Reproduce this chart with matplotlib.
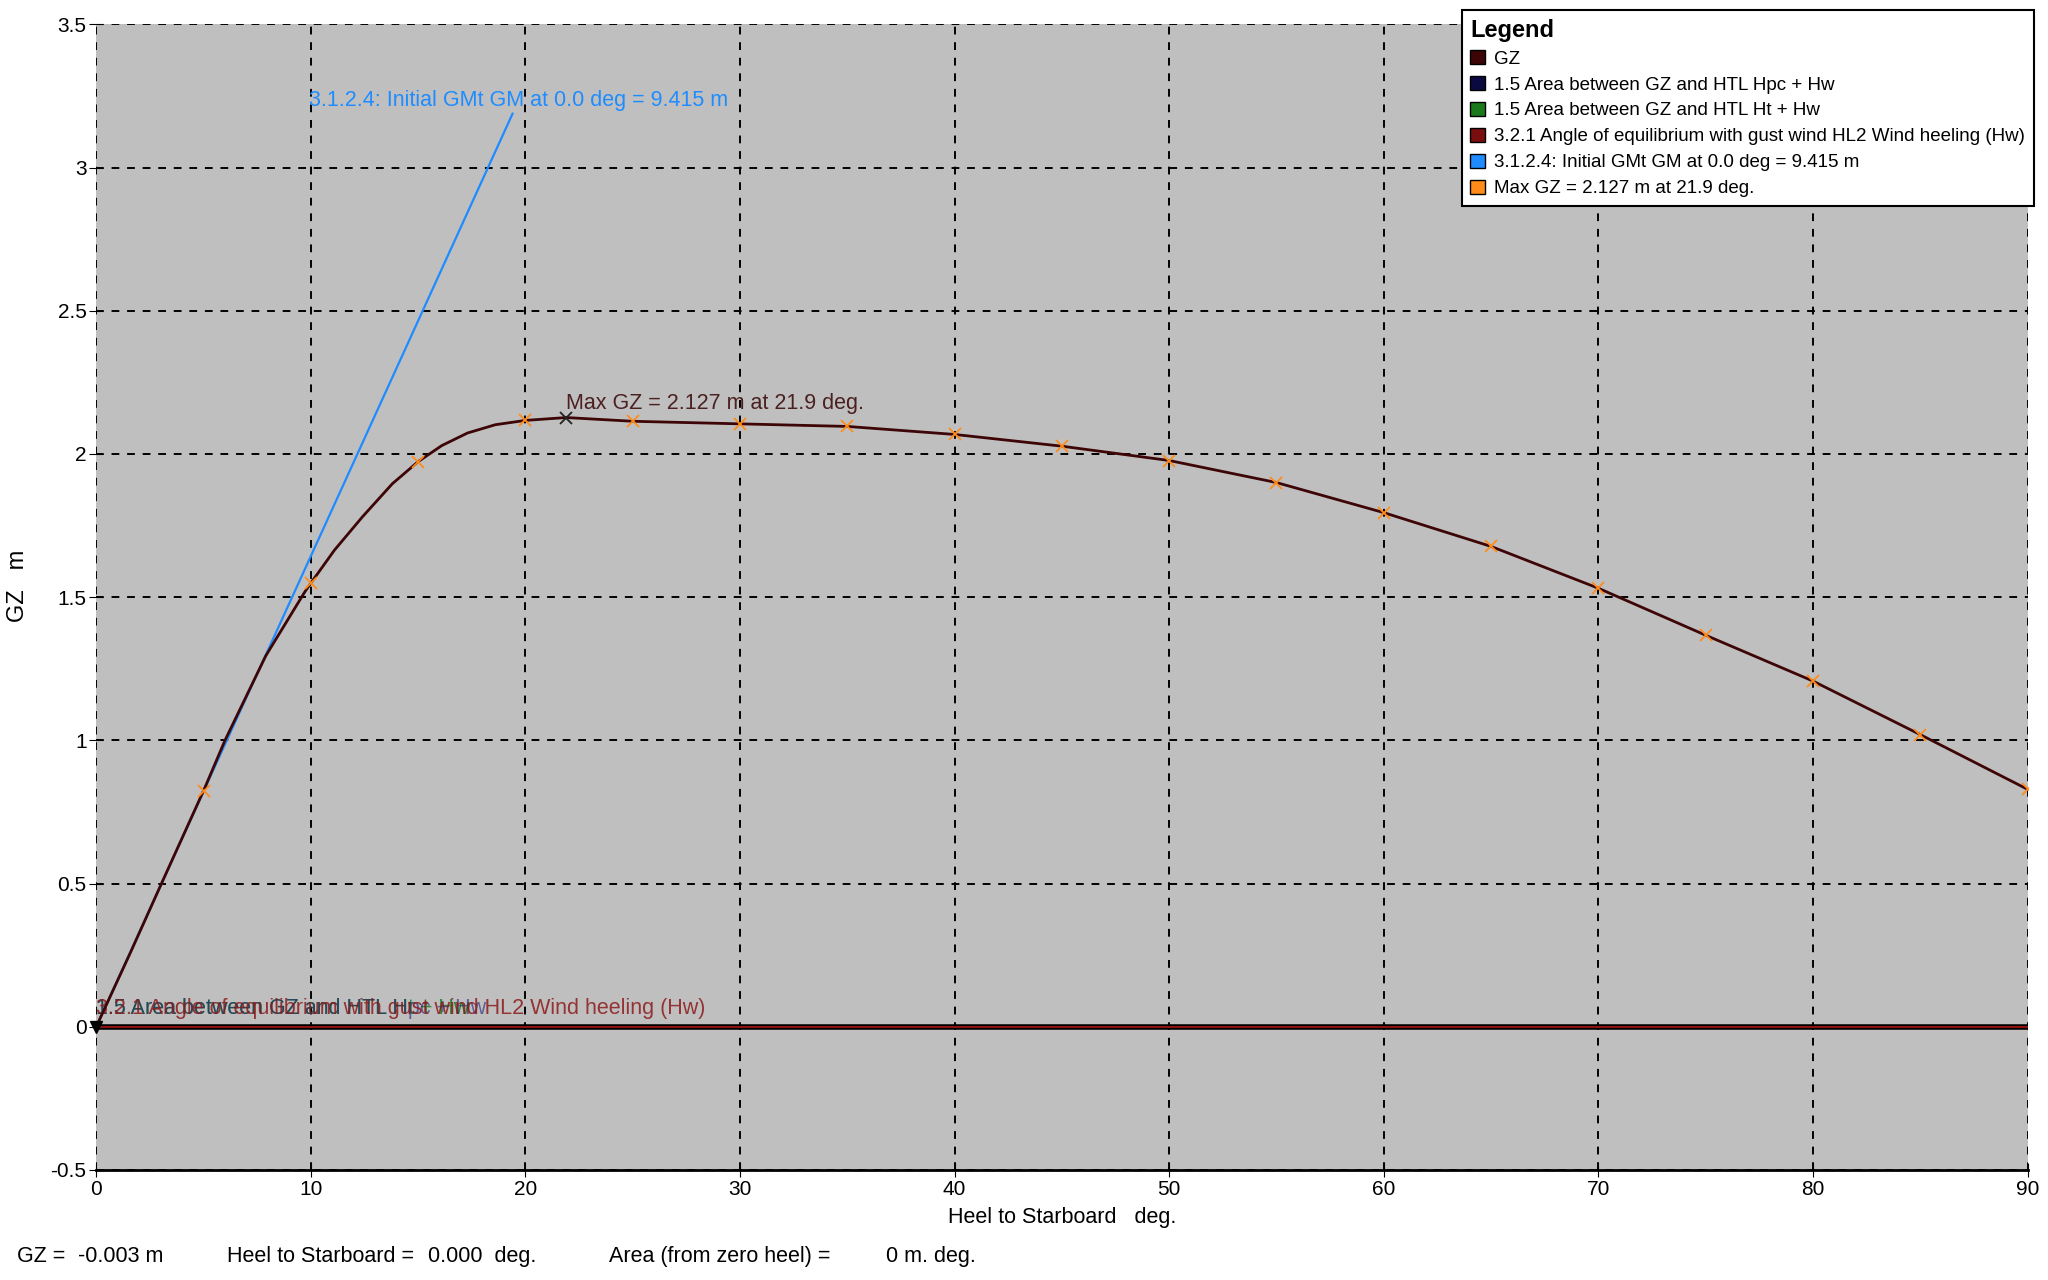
import numpy as np, matplotlib; matplotlib.use("Agg")
import matplotlib.pyplot as plt
from matplotlib.patches import Patch

plt.rcParams['font.family'] = ['Liberation Sans', 'DejaVu Sans']

# GZ curve, points (denser where it bends)
heel = [0, 1.6, 3.1, 5, 6, 7.9, 9.7, 10, 11.1, 12.4, 13.8, 15, 16.1, 17.3, 18.6, 20, 21.9, 25, 30,
        35, 40, 45, 50, 55, 60, 65, 70, 75, 80, 85, 90]
gz = [0.0, 0.26, 0.51, 0.824, 1.0, 1.295, 1.516, 1.549, 1.664, 1.780, 1.896, 1.973, 2.029, 2.073,
      2.102, 2.117, 2.127, 2.114, 2.105, 2.096, 2.068, 2.027, 1.977, 1.900, 1.795, 1.677, 1.531,
      1.367, 1.207, 1.020, 0.829]
mark_heel = [5, 10, 15, 20, 25, 30, 35, 40, 45, 50, 55, 60, 65, 70, 75, 80, 85, 90]
max_gz_heel, max_gz = 21.9, 2.127
gm = 9.415            # m per radian
gm_end = 19.4         # deg, where the GM line stops
heel_zero = [0, 90]
htl = [0.0, 0.0]

legend_names = ["GZ", "1.5 Area between GZ and HTL Hpc + Hw", "1.5 Area between GZ and HTL Ht + Hw",
                "3.2.1 Angle of equilibrium with gust wind HL2 Wind heeling (Hw)",
                "3.1.2.4: Initial GMt GM at 0.0 deg = 9.415 m", "Max GZ = 2.127 m at 21.9 deg."]
legend_cols = ['#3d0505', '#0a0a40', '#1a7a1a', '#7a0d0d', '#1e8cff', '#ff8c1a']

fig = plt.figure(figsize=(20.48, 12.8), dpi=100)
ax = fig.add_axes([0.047, 0.086, 0.943, 0.895])
ax.set_facecolor('#c0bfc0')

# heeling lines at zero
ax.plot(heel_zero, htl, color='black', lw=4, zorder=3)
ax.plot(heel_zero, htl, color='#8b1010', lw=1.5, zorder=4)

# GM line
gx = np.array([0, gm_end])
ax.plot(gx, gm * np.radians(gx), color='#1e8cff', lw=1.6, zorder=4)
ax.text(9.9, 3.235, legend_names[4], color='#1e8cff', fontsize=15.5, va='center', ha='left')

# GZ curve
ax.plot(heel, gz, color='#3d0505', lw=2, zorder=5)
mark_gz = [gz[heel.index(h)] for h in mark_heel]
ax.plot(mark_heel, mark_gz, ls='none', marker='x', ms=9, mew=1.3, color='#ff8c1a', zorder=6)
ax.plot([max_gz_heel], [max_gz], ls='none', marker='x', ms=9, mew=1.3, color='#222222', zorder=6)
ax.text(max_gz_heel, 2.175, legend_names[5], color='#4a2020', fontsize=15.5, va='center', ha='left')
ax.plot([0], [0], marker='v', ms=9, color='black', zorder=7, clip_on=False)

# overlapping labels on the zero line
ax.text(0, 0.065, legend_names[2], color='#1a7a1a', fontsize=15.5, va='center', ha='left', alpha=0.85)
ax.text(0, 0.065, legend_names[1], color='#20207a', fontsize=15.5, va='center', ha='left', alpha=0.6)
ax.text(0, 0.065, legend_names[3], color='#8b1a1a', fontsize=15.5, va='center', ha='left', alpha=0.85)

ax.set_xlim(0, 90); ax.set_ylim(-0.5, 3.5)
ax.set_xticks(range(0, 91, 10)); ax.set_yticks(np.arange(-0.5, 3.51, 0.5))
ax.set_yticklabels(['-0.5', '0', '0.5', '1', '1.5', '2', '2.5', '3', '3.5'])
ax.grid(True, color='black', ls=(0, (4, 4)), lw=1.4)
ax.tick_params(direction='inout', length=10, labelsize=15, pad=2)
for s in ['top', 'right', 'left']: ax.spines[s].set_visible(False)
ax.spines['bottom'].set_linewidth(2)
ax.set_xlabel("Heel to Starboard   deg.", fontsize=15.5, labelpad=6)
ax.set_ylabel("GZ   m", fontsize=17)
ax.yaxis.set_label_coords(-0.035, 0.51)

handles = [Patch(facecolor=c, edgecolor='black', lw=1) for c in legend_cols]
leg = fig.legend(handles, legend_names, loc='upper right', bbox_to_anchor=(0.993, 0.992),
                 title="Legend", title_fontproperties={'weight': 'bold', 'size': 17},
                 fontsize=13.5, alignment='left', fancybox=False, edgecolor='black', framealpha=1,
                 handlelength=0.8, handleheight=0.8, handletextpad=0.5, labelspacing=0.44,
                 borderpad=0.45, borderaxespad=0)
leg.get_frame().set_linewidth(1.5)

status = [("GZ =", 13), ("-0.003 m", 60), ("Heel to Starboard =", 174), ("0.000  deg.", 328),
          ("Area (from zero heel) =", 466), ("0 m. deg.", 678)]
for s, xd in status:
    fig.text(xd / 1568, 0.014, s, fontsize=15.5)

fig.savefig("out.png", dpi=100)
